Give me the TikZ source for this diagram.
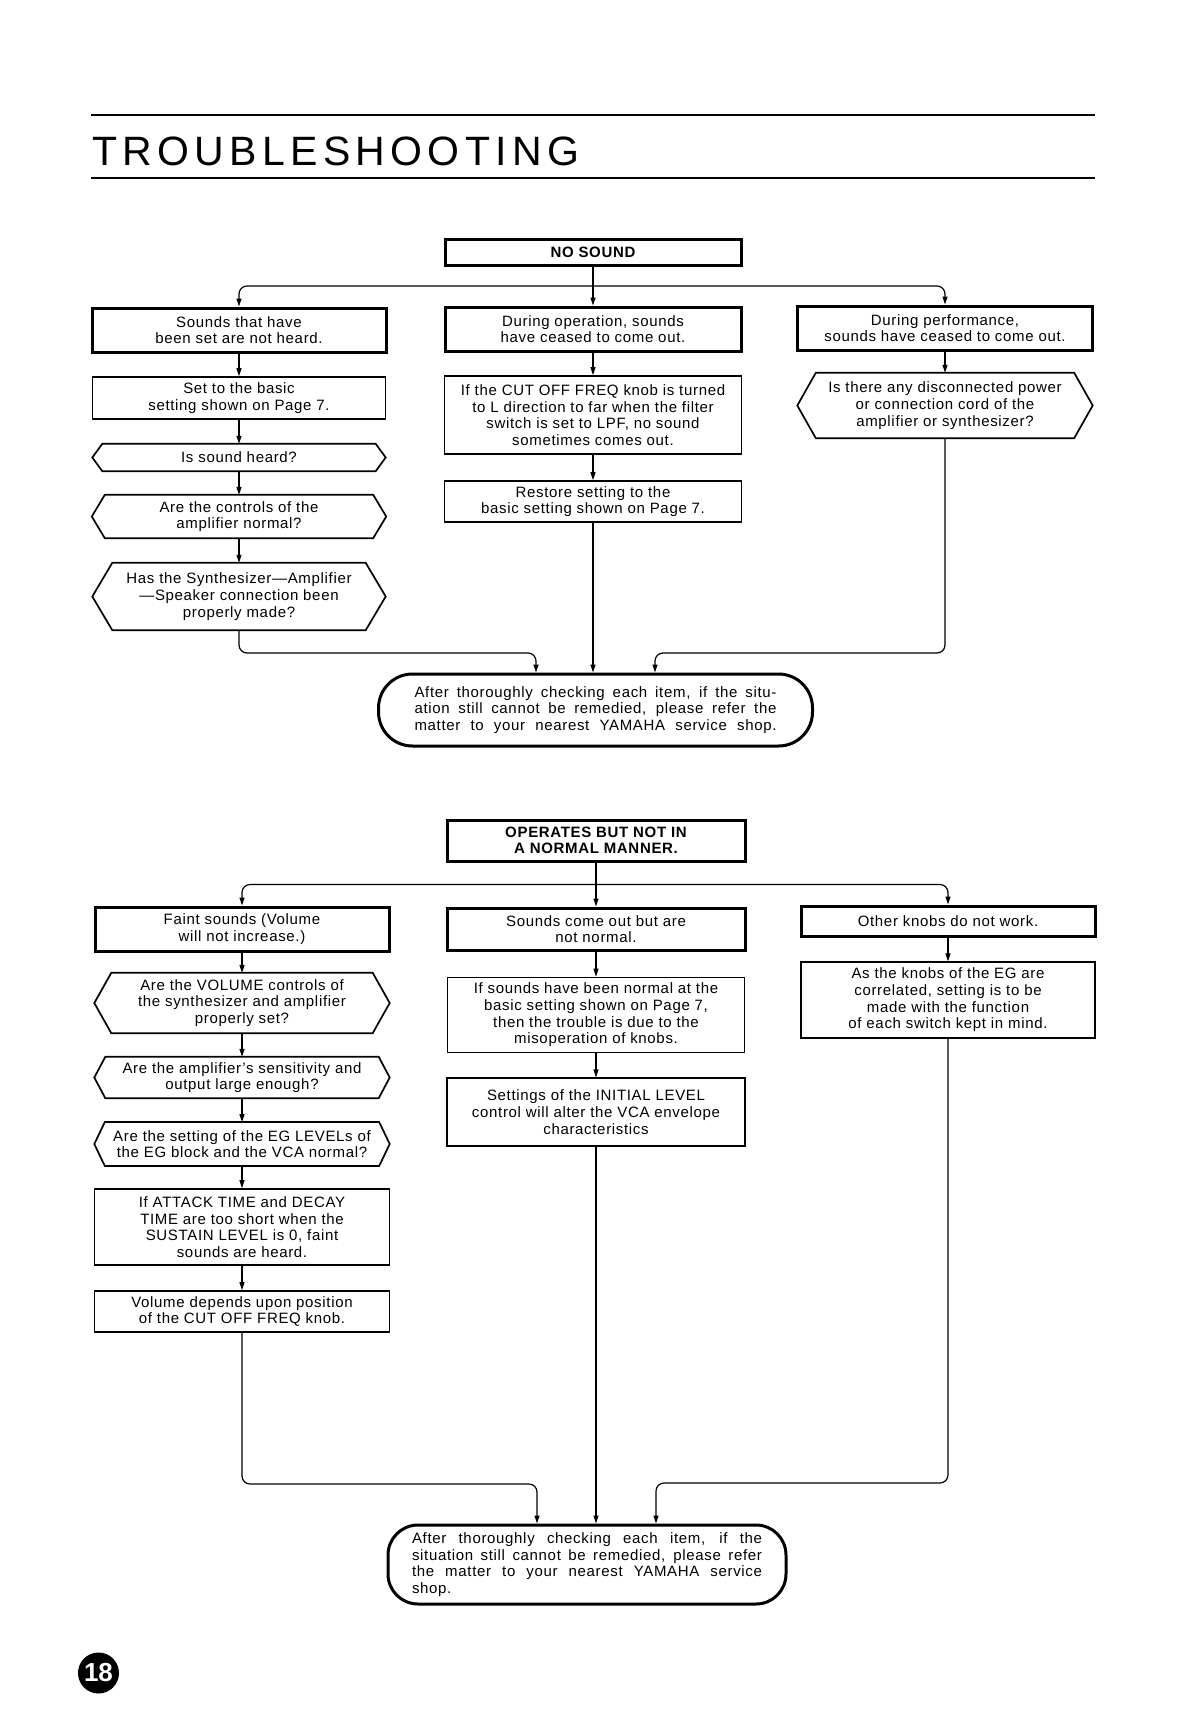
\documentclass[tikz,border=0pt]{standalone}
\usepackage{fontspec}
\setmainfont{Liberation Sans}
\newfontfamily\bodyfont[LetterSpace=4.5]{Liberation Sans}
\newfontfamily\titlefont[LetterSpace=13]{Liberation Sans}
\usetikzlibrary{arrows.meta}
\newcommand\bodytxt{\bodyfont\fontsize{15}{16.7}\selectfont}
\newcommand\boldtxt{\bodyfont\bfseries\fontsize{15}{16.2}\selectfont}
\newcommand\drawhex[2]{\draw[hexline] (#1.west) -- ([xshift=#2]#1.north west) -- ([xshift=-#2]#1.north east) -- (#1.east) -- ([xshift=-#2]#1.south east) -- ([xshift=#2]#1.south west) -- cycle;}
\newcommand\fline[2]{\makebox[#1][s]{#2}}
\tikzset{
  strongbox/.style={draw, line width=3pt, rectangle, inner sep=0pt, align=center, font=\bodytxt},
  lightbox/.style={draw, line width=1.7pt, rectangle, inner sep=0pt, align=center, font=\bodytxt},
  hexnode/.style={rectangle, inner sep=0pt, align=center, font=\bodytxt},
  hexline/.style={line width=1.7pt, line join=miter},
  finalbox/.style={draw, line width=3pt, rectangle, rounded corners=#1, inner sep=0pt, align=center, font=\bodytxt},
  conn/.style={line width=1.2pt, -{Triangle[length=8pt,width=5pt]}},
  rule/.style={line width=1.8pt},
  sz/.style 2 args={minimum width=#1, minimum height=#2}
}
\begin{document}
\begin{tikzpicture}[x=1pt, y=-1pt]
\useasboundingbox (0,0) rectangle (1194,1716);
\fill[white] (0,0) rectangle (1194,1716);

% ---------- title ----------
\draw[rule] (91,115) -- (1095,115);
\node[anchor=base west, inner sep=0pt, font=\titlefont\fontsize{41}{41}\selectfont] (title) at (92,165) {TROUBLESHOOTING};
\draw[rule] (91,178) -- (1095,178);

% ---------- section 1 ----------
\node[strongbox, font=\boldtxt, sz={296}{26}] (ns) at (593,252) {NO SOUND};
\coordinate (br1) at (593,286);

\node[strongbox, sz={294}{44}] (a1) at (239,330) {Sounds that have\\been set are not heard.};
\node[strongbox, sz={296}{44}] (b1) at (593,329) {During operation, sounds\\have ceased to come out.};
\node[strongbox, sz={295}{44}] (c1) at (945,328) {During performance,\\sounds have ceased to come out.};

\node[lightbox, sz={293}{42}] (a2) at (239,398) {Set to the basic\\setting shown on Page 7.};
\node[hexnode, sz={293}{27}] (a3) at (239,457.5) {Is sound heard?};
\node[hexnode, sz={294}{43}] (a4) at (239,516.5) {Are the controls of the\\amplifier normal?};
\node[hexnode, sz={293}{67}] (a5) at (239,596.5) {Has the Synthesizer—Amplifier\\—Speaker connection been\\properly made?};
\drawhex{a3}{10}
\drawhex{a4}{13}
\drawhex{a5}{20}

\node[lightbox, sz={297}{78}] (b2) at (593,415) {If the CUT OFF FREQ knob is turned\\to L direction to far when the filter\\switch is set to LPF, no sound\\sometimes comes out.};
\node[lightbox, sz={297}{41}] (b3) at (593,501.5) {Restore setting to the\\basic setting shown on Page 7.};

\node[hexnode, sz={295}{65}] (c2) at (945,405.5) {Is there any disconnected power\\or connection cord of the\\amplifier or synthesizer?};
\drawhex{c2}{18.5}

\node[finalbox=34pt, sz={434}{72}] (f1) at (595.5,710) {\fline{362pt}{After thoroughly checking each item, if the situ-}\\\fline{362pt}{ation still cannot be remedied, please refer the}\\\fline{362pt}{matter to your nearest YAMAHA service shop.}};
\coordinate (j1l) at (536,653);
\coordinate (j1r) at (655,653);

\draw[conn] (ns.south) -- (b1.north);
\draw[conn, rounded corners=8pt] (br1) -| (a1.north);
\draw[conn, rounded corners=8pt] (br1) -| (c1.north);
\draw[conn] (a1.south) -- (a2.north);
\draw[conn] (a2.south) -- (a3.north);
\draw[conn] (a3.south) -- (a4.north);
\draw[conn] (a4.south) -- (a5.north);
\draw[conn] (b1.south) -- (b2.north);
\draw[conn] (b2.south) -- (b3.north);
\draw[conn] (c1.south) -- (c2.north);
\draw[conn, rounded corners=8pt] (a5.south) |- (j1l) -- (j1l |- f1.north);
\draw[conn] (b3.south) -- (b3.south |- f1.north);
\draw[conn, rounded corners=8pt] (c2.south) |- (j1r) -- (j1r |- f1.north);

% ---------- section 2 ----------
\node[strongbox, font=\boldtxt, sz={298}{41}] (op) at (596,840.5) {OPERATES BUT NOT IN\\A NORMAL MANNER.};
\coordinate (br2) at (596,884.5);

\node[strongbox, sz={294}{44}] (d1) at (242,929) {Faint sounds (Volume\\will not increase.)};
\node[hexnode, sz={295}{60}] (d2) at (242,1003) {Are the VOLUME controls of\\the synthesizer and amplifier\\properly set?};
\node[hexnode, sz={295}{41}] (d3) at (242,1077.5) {Are the amplifier’s sensitivity and\\output large enough?};
\node[hexnode, sz={295}{43.5}] (d4) at (242,1144) {Are the setting of the EG LEVELs of\\the EG block and the VCA normal?};
\drawhex{d2}{17}
\drawhex{d3}{11}
\drawhex{d4}{10.5}
\node[lightbox, sz={295}{76}] (d5) at (242,1227) {If ATTACK TIME and DECAY\\TIME are too short when the\\SUSTAIN LEVEL is 0, faint\\sounds are heard.};
\node[lightbox, sz={295}{41}] (d6) at (242,1311.5) {Volume depends upon position\\of the CUT OFF FREQ knob.};

\node[strongbox, sz={298}{42}] (e1) at (596,929) {Sounds come out but are\\not normal.};
\node[lightbox, sz={297}{75}] (e2) at (596,1015) {If sounds have been normal at the\\basic setting shown on Page 7,\\then the trouble is due to the\\misoperation of knobs.};
\node[lightbox, sz={298}{67.5}] (e3) at (596,1112) {Settings of the INITIAL LEVEL\\control will alter the VCA envelope\\characteristics};

\node[strongbox, sz={294}{30}] (g1) at (948,921) {Other knobs do not work.};
\node[lightbox, sz={294}{75.5}] (g2) at (948,1000) {As the knobs of the EG are\\correlated, setting is to be\\made with the function\\of each switch kept in mind.};

\node[finalbox=30pt, sz={398}{79}] (f2) at (587,1564.5) {\fline{350pt}{After thoroughly checking each item, if the}\\\fline{350pt}{situation still cannot be remedied, please refer}\\\fline{350pt}{the matter to your nearest YAMAHA service}\\\makebox[350pt][l]{shop.}};
\coordinate (j2l) at (537,1484);
\coordinate (j2r) at (656,1483);

\draw[conn] (op.south) -- (e1.north);
\draw[conn, rounded corners=8pt] (br2) -| (d1.north);
\draw[conn, rounded corners=8pt] (br2) -| (g1.north);
\draw[conn] (d1.south) -- (d2.north);
\draw[conn] (d2.south) -- (d3.north);
\draw[conn] (d3.south) -- (d4.north);
\draw[conn] (d4.south) -- (d5.north);
\draw[conn] (d5.south) -- (d6.north);
\draw[conn] (e1.south) -- (e2.north);
\draw[conn] (e2.south) -- (e3.north);
\draw[conn] (g1.south) -- (g2.north);
\draw[conn, rounded corners=8pt] (d6.south) |- (j2l) -- (j2l |- f2.north);
\draw[conn] (e3.south) -- (e3.south |- f2.north);
\draw[conn, rounded corners=8pt] (g2.south) |- (j2r) -- (j2r |- f2.north);

% ---------- page number ----------
\node[circle, fill=black, text=white, minimum size=41pt, inner sep=0pt, font=\bfseries\fontsize{26}{26}\selectfont] (pg) at (98.5,1673) {18};
\end{tikzpicture}
\end{document}
